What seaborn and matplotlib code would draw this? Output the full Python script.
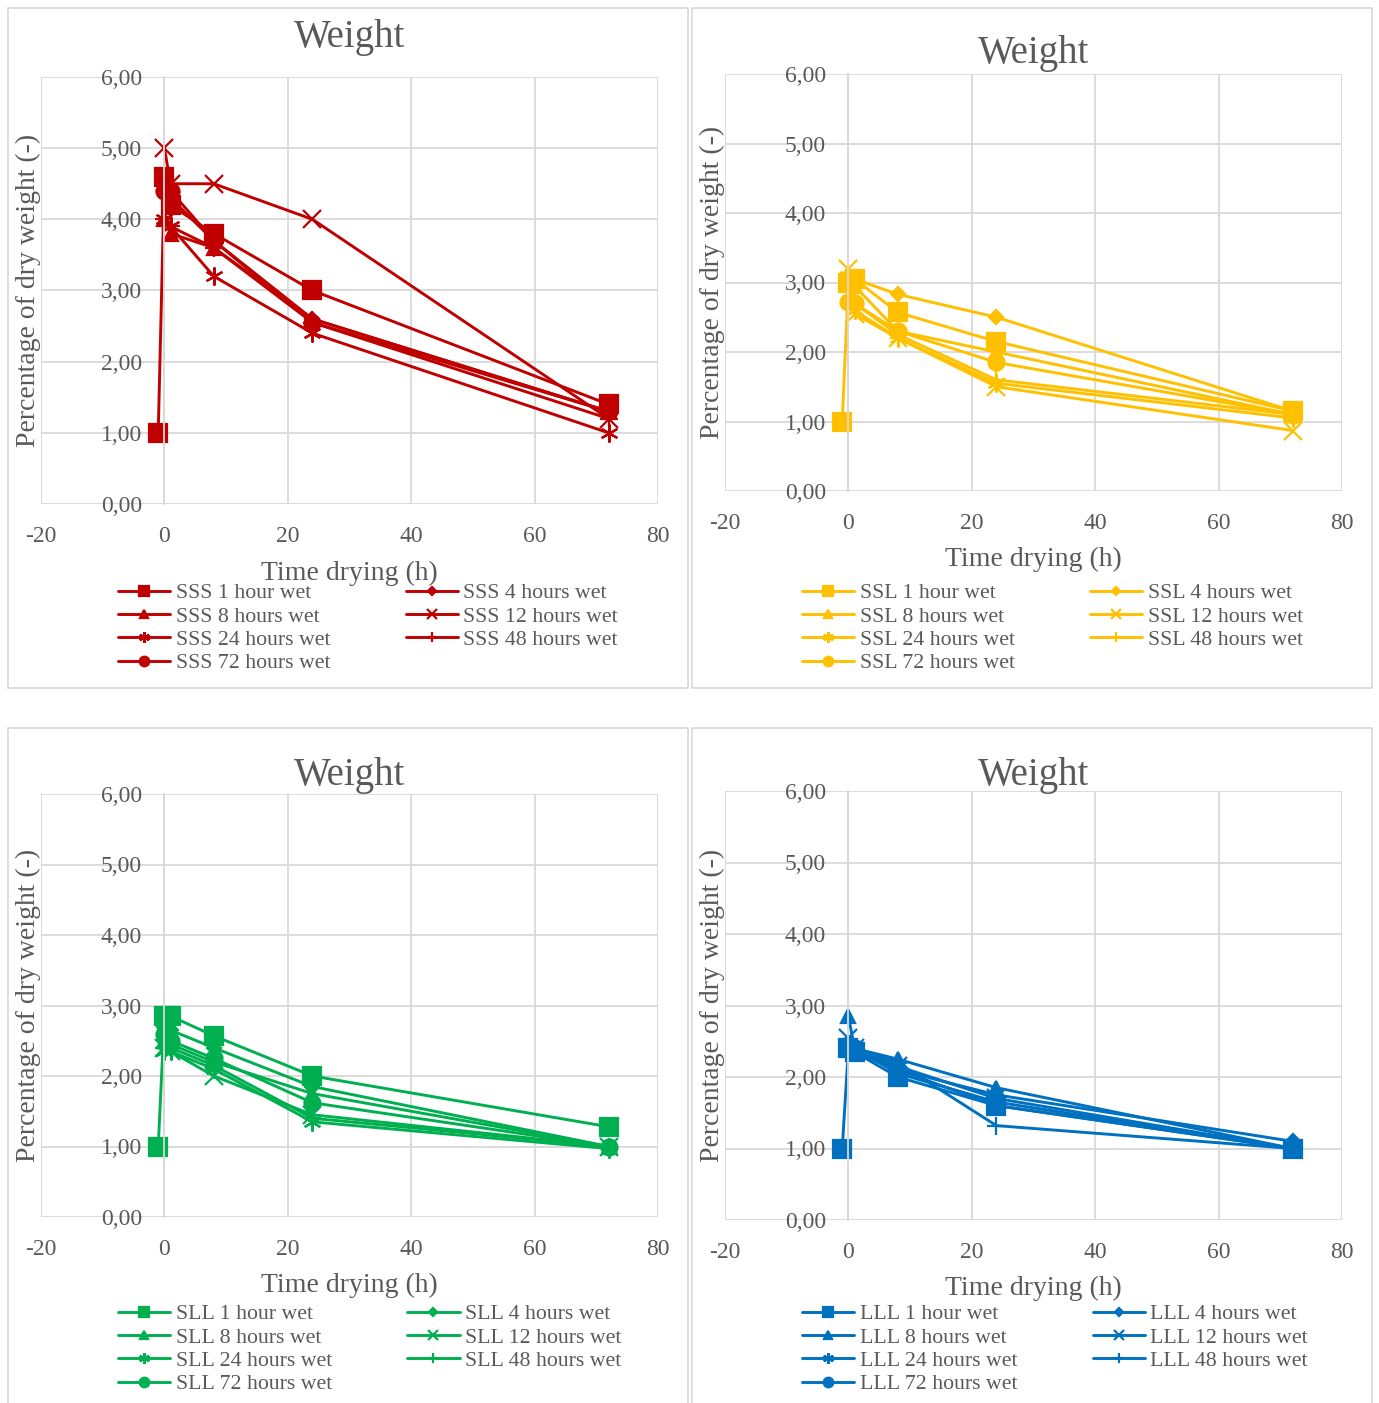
import matplotlib
matplotlib.use("Agg")
import matplotlib.pyplot as plt
import seaborn as sns
from matplotlib.patches import Rectangle

sns.set_theme(style="white")
plt.rcParams["font.family"] = ["Liberation Serif", "DejaVu Serif"]

W, H = 1379, 1403
TEXT = "#595959"
GRID = "#D9D9D9"

# Series names and markers shared by all four panels
durations = ["1 hour wet", "4 hours wet", "8 hours wet", "12 hours wet",
             "24 hours wet", "48 hours wet", "72 hours wet"]
markers = ["s", "D", "^", "x", (6, 2, 0), "+", "o"]
marker_sizes = [13, 7, 10, 13, 13, 13, 11.5]

x_ticks = [-20, 0, 20, 40, 60, 80]
x_tick_labels = ["-20", "0", "20", "40", "60", "80"]
y_ticks = [0, 1, 2, 3, 4, 5, 6]
y_tick_labels = ["0,00", "1,00", "2,00", "3,00", "4,00", "5,00", "6,00"]

# Drying times (h); the 1-hour series also carries the dry reference point
t_first = [-1, 0, 1, 8, 24, 72]
t_rest = [0, 1, 8, 24, 72]

# SSS
sss_1h = [1.00, 4.60, 4.20, 3.80, 3.00, 1.40]
sss_4h = [4.40, 4.30, 3.70, 2.60, 1.30]
sss_8h = [4.00, 3.80, 3.60, 2.60, 1.30]
sss_12h = [5.00, 4.50, 4.50, 4.00, 1.20]
sss_24h = [4.00, 3.90, 3.20, 2.40, 1.00]
sss_48h = [4.00, 3.90, 3.60, 2.55, 1.20]
sss_72h = [4.40, 4.40, 3.70, 2.55, 1.30]

# SSL
ssl_1h = [1.00, 3.00, 3.05, 2.57, 2.15, 1.15]
ssl_4h = [3.10, 3.05, 2.83, 2.50, 1.15]
ssl_8h = [3.10, 2.95, 2.30, 2.00, 1.10]
ssl_12h = [3.20, 2.55, 2.20, 1.50, 0.87]
ssl_24h = [3.10, 2.60, 2.20, 1.55, 1.05]
ssl_48h = [3.00, 2.70, 2.25, 1.60, 1.10]
ssl_72h = [2.72, 2.70, 2.30, 1.85, 1.10]

# SLL
sll_1h = [1.00, 2.85, 2.85, 2.57, 2.00, 1.28]
sll_4h = [2.70, 2.65, 2.40, 1.85, 1.00]
sll_8h = [2.50, 2.45, 2.20, 1.75, 1.00]
sll_12h = [2.40, 2.35, 2.00, 1.45, 1.00]
sll_24h = [2.35, 2.35, 2.10, 1.35, 0.97]
sll_48h = [2.40, 2.40, 2.15, 1.40, 1.00]
sll_72h = [2.60, 2.50, 2.25, 1.62, 1.00]

# LLL
lll_1h = [1.00, 2.40, 2.35, 2.00, 1.60, 1.00]
lll_4h = [2.45, 2.40, 2.10, 1.75, 1.10]
lll_8h = [2.85, 2.40, 2.25, 1.85, 1.00]
lll_12h = [2.55, 2.40, 2.15, 1.70, 1.00]
lll_24h = [2.35, 2.35, 2.10, 1.60, 1.00]
lll_48h = [2.40, 2.40, 2.20, 1.32, 1.00]
lll_72h = [2.45, 2.40, 2.05, 1.65, 1.00]

panels = [
    dict(prefix="SSS", color="#C00000",
         series=[sss_1h, sss_4h, sss_8h, sss_12h, sss_24h, sss_48h, sss_72h],
         box=(8, 8, 688, 688), area=(41, 77, 658, 504),
         title_y=37, xlabel_y=573, ylabel_x=28, legend_xy=(118, 583)),
    dict(prefix="SSL", color="#FFC000",
         series=[ssl_1h, ssl_4h, ssl_8h, ssl_12h, ssl_24h, ssl_48h, ssl_72h],
         box=(692, 8, 1372, 688), area=(725, 74, 1342, 491),
         title_y=53, xlabel_y=559, ylabel_x=712, legend_xy=(802, 583)),
    dict(prefix="SLL", color="#00B050",
         series=[sll_1h, sll_4h, sll_8h, sll_12h, sll_24h, sll_48h, sll_72h],
         box=(8, 728, 688, 1420), area=(41, 794, 658, 1217),
         title_y=775, xlabel_y=1285, ylabel_x=28, legend_xy=(118, 1304)),
    dict(prefix="LLL", color="#0070C0",
         series=[lll_1h, lll_4h, lll_8h, lll_12h, lll_24h, lll_48h, lll_72h],
         box=(692, 728, 1372, 1420), area=(725, 791, 1342, 1220),
         title_y=775, xlabel_y=1288, ylabel_x=712, legend_xy=(802, 1304)),
]

fig = plt.figure(figsize=(W / 100, H / 100), dpi=100)
fig.patch.set_facecolor("white")


def fx(x):
    return x / W


def fy(y):
    return 1 - y / H


for p in panels:
    # chart frame
    bx0, by0, bx1, by1 = p["box"]
    fig.patches.append(Rectangle((fx(bx0), fy(by1)), fx(bx1 - bx0), (by1 - by0) / H,
                                 transform=fig.transFigure, fill=False,
                                 edgecolor=GRID, linewidth=1.2))

    x0, y0, x1, y1 = p["area"]
    ax = fig.add_axes([fx(x0), fy(y1), fx(x1 - x0), (y1 - y0) / H])
    c = p["color"]

    for i, vals in enumerate(p["series"]):
        t = t_first if i == 0 else t_rest
        sns.lineplot(x=t, y=vals, ax=ax, color=c, linewidth=2.1,
                     marker=markers[i], markersize=marker_sizes[i],
                     markeredgecolor=c, markerfacecolor=c,
                     markeredgewidth=1.6, label=f"{p['prefix']} {durations[i]}",
                     legend=False)

    ax.set_xlim(-20, 80)
    ax.set_ylim(0, 6)
    ax.set_xticks(x_ticks)
    ax.set_xticklabels(x_tick_labels)
    ax.set_yticks(y_ticks)
    ax.set_yticklabels(y_tick_labels)
    ax.grid(True, color=GRID, linewidth=1.3)
    ax.set_axisbelow(True)
    for s in ["top", "right", "bottom"]:
        ax.spines[s].set_visible(False)
    ax.spines["left"].set_position(("data", 0))
    ax.spines["left"].set_color(GRID)
    ax.spines["left"].set_linewidth(1.3)
    ax.tick_params(axis="both", length=0, labelsize=17, labelcolor=TEXT)
    ax.tick_params(axis="y", pad=16)
    ax.tick_params(axis="x", pad=16)

    ax.set_xlabel("Time drying (h)", fontsize=20, color=TEXT)
    ax.xaxis.label.set_va("center")
    ax.xaxis.set_label_coords(0.5, (y1 - p["xlabel_y"]) / (y1 - y0))
    ax.set_ylabel("Percentage of dry weight (-)", fontsize=20, color=TEXT)
    ax.yaxis.label.set_va("center")
    ax.yaxis.set_label_coords((p["ylabel_x"] - x0) / (x1 - x0), 0.5)

    fig.text(fx((x0 + x1) / 2), fy(p["title_y"]), "Weight", fontsize=28,
             color=TEXT, ha="center", va="center")

    handles, labels = ax.get_legend_handles_labels()
    order = [0, 2, 4, 6, 1, 3, 5]
    lx, ly = p["legend_xy"]
    ax.legend([handles[k] for k in order], [labels[k] for k in order],
              loc="upper left", bbox_to_anchor=(fx(lx), fy(ly)),
              bbox_transform=fig.transFigure, ncol=2, frameon=False,
              fontsize=15.7, labelcolor=TEXT, markerscale=0.6,
              handlelength=2.4, handletextpad=0.25, columnspacing=3.45,
              labelspacing=0.14, borderpad=0, borderaxespad=0)

fig.savefig("out.png", dpi=100, facecolor="white")
